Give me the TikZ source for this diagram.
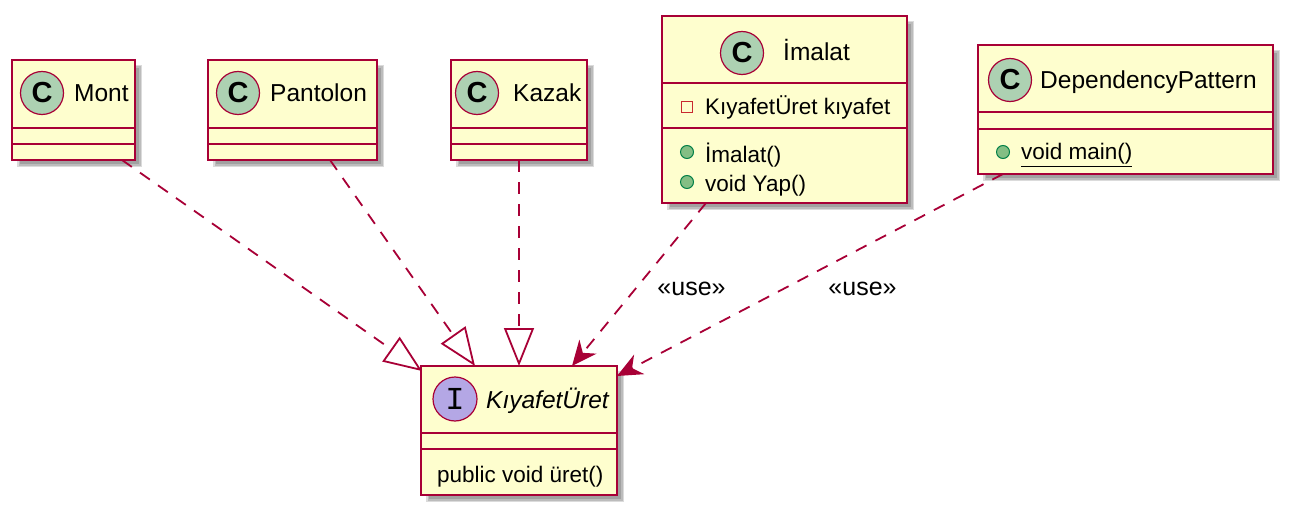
\documentclass[tikz,border=0pt]{standalone}
\usepackage{fontspec}
\setmainfont{Liberation Sans}
\newfontfamily\umlmono{Liberation Mono}
\usetikzlibrary{arrows.meta,calc}
\definecolor{umlred}{HTML}{A80036}
\definecolor{umlfill}{HTML}{FEFECE}
\definecolor{cgreen}{HTML}{ADD1B2}
\definecolor{ipurple}{HTML}{B4A7E5}
\definecolor{pubfill}{HTML}{84BE84}
\definecolor{pubdraw}{HTML}{038048}
\definecolor{privred}{HTML}{C82930}
\pgfdeclarelayer{background}
\pgfsetlayers{background,main}
\begin{document}
\begin{tikzpicture}[x=1pt,y=-1pt,
  box/.style={draw=umlred, fill=umlfill, line width=2.6pt, inner sep=0pt, outer sep=0pt},
  sepline/.style={draw=umlred, line width=2.6pt},
  circ/.style={circle, draw=umlred, fill=cgreen, line width=1.2pt, minimum size=43pt, inner sep=0pt, font=\fontsize{29}{30}\selectfont\bfseries},
  icirc/.style={circle, draw=umlred, fill=ipurple, line width=1.2pt, minimum size=44pt, inner sep=0pt, font=\fontsize{32}{32}\selectfont\umlmono},
  cname/.style={anchor=base west, inner sep=0pt, font=\fontsize{24.5}{28}\selectfont},
  mem/.style={anchor=base west, inner sep=0pt, font=\fontsize{22.5}{26}\selectfont},
  pub/.style={circle, draw=pubdraw, fill=pubfill, line width=1pt, minimum size=13pt, inner sep=0pt},
  priv/.style={rectangle, draw=privred, line width=1.2pt, minimum size=11pt, inner sep=0pt},
  realize/.style={draw=umlred, line width=1.8pt, dash pattern=on 12pt off 10pt,
    -{Triangle[length=38pt,width=30pt,fill=white,line width=1.8pt]}},
  useedge/.style={draw=umlred, line width=1.8pt, dash pattern=on 12pt off 10pt,
    -{Stealth[length=25pt,width=22pt,inset=8pt]}},
  lbl/.style={inner sep=0pt, font=\fontsize{25}{28}\selectfont}
]
\useasboundingbox (0,0) rectangle (1293,516);

% boxes
\node[box, minimum width=123pt, minimum height=100pt] (mont) at (73.5,110) {};
\node[box, minimum width=169pt, minimum height=100pt] (pant) at (292.5,110) {};
\node[box, minimum width=136pt, minimum height=100pt] (kaz) at (519,110) {};
\node[box, minimum width=245pt, minimum height=187pt] (ima) at (784.5,109.5) {};
\node[box, minimum width=295pt, minimum height=129pt] (dep) at (1125.5,109.5) {};
\node[box, minimum width=196pt, minimum height=129pt] (kiy) at (519,430.5) {};

% shadows
\begin{pgfonlayer}{background}
\foreach \n in {mont,pant,kaz,ima,dep,kiy}{
  \foreach \e in {0,1.5,3}{
    \fill[black,opacity=0.14] ($(\n.north west)+(8-\e,8-\e)$) rectangle ($(\n.south east)+(4+\e,4+\e)$);
  }
}
\end{pgfonlayer}

% separators
\draw[sepline] ($(mont.north west)+(0,68)$) -- ($(mont.north east)+(0,68)$);
\draw[sepline] ($(mont.north west)+(0,84)$) -- ($(mont.north east)+(0,84)$);
\draw[sepline] ($(pant.north west)+(0,68)$) -- ($(pant.north east)+(0,68)$);
\draw[sepline] ($(pant.north west)+(0,84)$) -- ($(pant.north east)+(0,84)$);
\draw[sepline] ($(kaz.north west)+(0,68)$) -- ($(kaz.north east)+(0,68)$);
\draw[sepline] ($(kaz.north west)+(0,84)$) -- ($(kaz.north east)+(0,84)$);
\draw[sepline] ($(ima.north west)+(0,67)$) -- ($(ima.north east)+(0,67)$);
\draw[sepline] ($(ima.north west)+(0,112)$) -- ($(ima.north east)+(0,112)$);
\draw[sepline] ($(dep.north west)+(0,67)$) -- ($(dep.north east)+(0,67)$);
\draw[sepline] ($(dep.north west)+(0,84)$) -- ($(dep.north east)+(0,84)$);
\draw[sepline] ($(kiy.north west)+(0,67)$) -- ($(kiy.north east)+(0,67)$);
\draw[sepline] ($(kiy.north west)+(0,83)$) -- ($(kiy.north east)+(0,83)$);

% headers
\node[circ] (montc) at (42,93) {C};
\node[cname] (montn) at (74,102) {Mont};
\node[circ] (pantc) at (238,93) {C};
\node[cname] (pantn) at (270,102) {Pantolon};
\node[circ] (kazc) at (477,93) {C};
\node[cname] (kazn) at (513,102) {Kazak};
\node[circ] (imac) at (742,53) {C};
\node[cname] (iman) at (783,61) {İmalat};
\node[circ] (depc) at (1010,80) {C};
\node[cname] (depn) at (1040,89) {DependencyPattern};
\node[icirc] (kiyc) at (455,399) {I};
\node[cname, font=\fontsize{24.5}{28}\selectfont\itshape] (kiyn) at (486,408) {KıyafetÜret};

% members
\node[priv] (imap) at (687,107) {};
\node[mem] (imaa) at (705,115) {KıyafetÜret kıyafet};
\node[pub] (imam1) at (687,152) {};
\node[mem] (imat1) at (705,162) {İmalat()};
\node[pub] (imam2) at (687,182) {};
\node[mem] (imat2) at (705,191) {void Yap()};
\node[pub] (depm) at (1003,152) {};
\node[mem] (dept) at (1021,160) {\underline{void main()}};
\node[mem] (kiyt) at (437,482) {public void üret()};

% connectors
\draw[realize] ([xshift=110pt]mont.south west) -- ([xshift=1pt,yshift=-5pt]kiy.north west);
\draw[realize] ([xshift=122pt]pant.south west) -- ([xshift=54pt]kiy.north west);
\draw[realize] (kaz.south) -- (kiy.north);
\draw[useedge] ([xshift=44pt]ima.south west) -- ([xshift=151pt]kiy.north west);
\draw[useedge] ([xshift=25pt]dep.south west) -- ([yshift=-10pt]kiy.north east);

\node[lbl] (use1) at (691.5,289) {«use»};
\node[lbl] (use2) at (862.5,289) {«use»};
\end{tikzpicture}
\end{document}
